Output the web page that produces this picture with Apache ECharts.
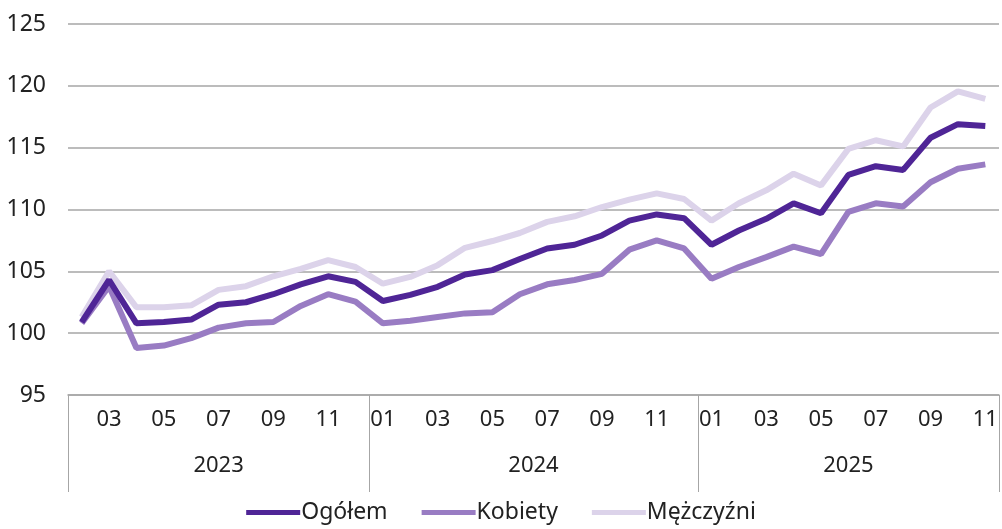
<!DOCTYPE html>
<html>
<head>
<meta charset="utf-8">
<script src="https://cdn.jsdelivr.net/npm/echarts@6/dist/echarts.min.js"></script>
<style>
html,body{margin:0;padding:0;background:#fff;}
#chart{width:1002px;height:529px;}
</style>
</head>
<body>
<div id="chart"></div>
<script>
var categories = ['2023-02','2023-03','2023-04','2023-05','2023-06','2023-07','2023-08','2023-09','2023-10','2023-11','2023-12',
  '2024-01','2024-02','2024-03','2024-04','2024-05','2024-06','2024-07','2024-08','2024-09','2024-10','2024-11','2024-12',
  '2025-01','2025-02','2025-03','2025-04','2025-05','2025-06','2025-07','2025-08','2025-09','2025-10','2025-11'];
var ogolem = [100.9, 104.3, 100.8, 100.9, 101.1, 102.3, 102.5, 103.15, 103.95, 104.6, 104.15,
  102.6, 103.1, 103.75, 104.75, 105.1, 106.0, 106.85, 107.15, 107.9, 109.1, 109.6, 109.3,
  107.15, 108.3, 109.25, 110.5, 109.7, 112.8, 113.5, 113.2, 115.8, 116.9, 116.75];
var kobiety = [100.8, 103.8, 98.8, 99.0, 99.6, 100.45, 100.8, 100.9, 102.2, 103.15, 102.55,
  100.8, 101.0, 101.3, 101.6, 101.7, 103.15, 103.95, 104.3, 104.8, 106.75, 107.5, 106.85,
  104.4, 105.35, 106.15, 107.0, 106.4, 109.8, 110.5, 110.25, 112.2, 113.3, 113.65];
var mezczyzni = [101.3, 105.0, 102.1, 102.1, 102.25, 103.5, 103.8, 104.6, 105.2, 105.9, 105.35,
  104.0, 104.55, 105.5, 106.9, 107.45, 108.1, 109.0, 109.45, 110.2, 110.8, 111.3, 110.85,
  109.1, 110.5, 111.55, 112.9, 111.95, 114.9, 115.6, 115.1, 118.25, 119.55, 118.95];
var seriesNames = ['Ogółem', 'Kobiety', 'Mężczyźni'];
var yTicks = {min: 95, max: 125, step: 5};

var months = categories.map(function (c) { return c.split('-')[1]; });
var years = categories.map(function (c) { return c.split('-')[0]; });

// half-slot axis for year labels (centered under each year's block)
var yearSlots = [];
for (var k = 0; k <= categories.length * 2; k++) yearSlots.push('');
var uniqYears = years.filter(function (y, i) { return years.indexOf(y) === i; });
uniqYears.forEach(function (y) {
  var a = years.indexOf(y), b = years.lastIndexOf(y);
  yearSlots[a + b + 1] = y;
});

var FONT = "'Noto Sans', sans-serif";
var chart = echarts.init(document.getElementById('chart'), null, {renderer: 'canvas'});
chart.setOption({
  animation: false,
  backgroundColor: '#ffffff',
  grid: {left: 68, right: -5, top: 24, bottom: 134, containLabel: false},
  legend: {
    bottom: 0, left: 'center',
    data: seriesNames,
    icon: 'rect', itemWidth: 54, itemHeight: 5, itemGap: 34,
    textStyle: {fontFamily: FONT, fontSize: 23, color: '#222', padding: [0, 0, 0, -4]}
  },
  xAxis: [{
    type: 'category', data: categories, boundaryGap: true,
    axisLine: {show: true, lineStyle: {color: '#a6a6a6', width: 1.5}},
    axisTick: {show: true, length: 97, lineStyle: {color: '#a6a6a6', width: 1},
      interval: function (idx) { return idx === 0 || months[idx] === '01'; }},
    axisLabel: {
      interval: function (idx) { return parseInt(months[idx], 10) % 2 === 1; },
      formatter: function (v) { return v.split('-')[1]; },
      fontFamily: FONT, fontSize: 22, color: '#222', margin: 14
    },
    splitLine: {show: false}
  }, {
    type: 'category', data: yearSlots, boundaryGap: false, position: 'bottom',
    axisLine: {show: false}, axisTick: {show: false}, splitLine: {show: false},
    axisLabel: {interval: 0, fontFamily: FONT, fontSize: 22, color: '#222', margin: 60}
  }],
  yAxis: {
    type: 'value', min: yTicks.min, max: yTicks.max, interval: yTicks.step,
    axisLine: {show: false}, axisTick: {show: false},
    axisLabel: {fontFamily: FONT, fontSize: 23, color: '#222', margin: 22},
    splitLine: {show: true, lineStyle: {color: '#a6a6a6', width: 1.5}}
  },
  series: [
    {name: seriesNames[0], type: 'line', data: ogolem, symbol: 'none', z: 4,
      itemStyle: {color: '#4f2596'}, lineStyle: {color: '#4f2596', width: 6}},
    {name: seriesNames[1], type: 'line', data: kobiety, symbol: 'none', z: 3,
      itemStyle: {color: '#997cc3'}, lineStyle: {color: '#997cc3', width: 6}},
    {name: seriesNames[2], type: 'line', data: mezczyzni, symbol: 'none', z: 2,
      itemStyle: {color: '#dcd3ea'}, lineStyle: {color: '#dcd3ea', width: 6}}
  ]
});
</script>
</body>
</html>
